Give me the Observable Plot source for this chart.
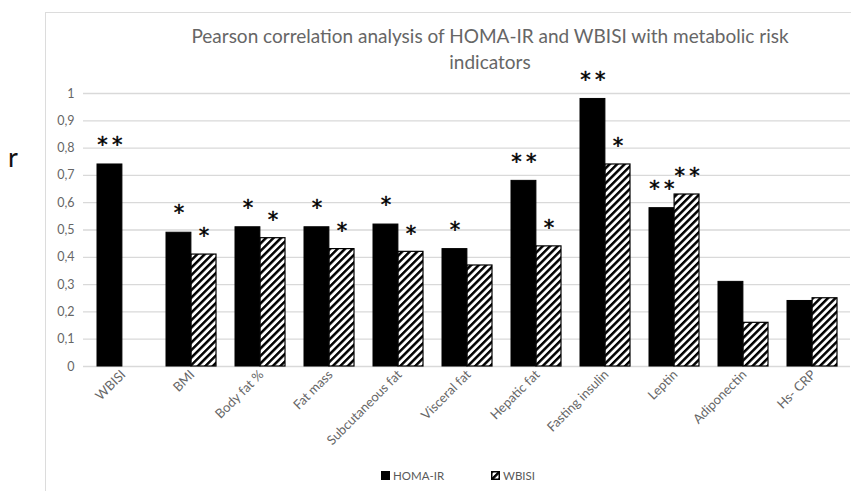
<!DOCTYPE html>
<html>
<head>
<meta charset="utf-8">
<script src="https://cdn.jsdelivr.net/npm/d3@7"></script>
<script src="https://cdn.jsdelivr.net/npm/@observablehq/plot@0.6"></script>
<style>
  html, body { margin: 0; padding: 0; background: #fff; overflow: hidden; }
  #wrap { position: relative; width: 851px; height: 491px; overflow: hidden; font-family: Lato, "Open Sans", sans-serif; }
  #frame { position: absolute; left: 45px; top: 12px; width: 900px; height: 600px; border: 1.5px solid #dcdcdc; box-sizing: border-box; }
  #chart { position: absolute; left: 0; top: 0; }
  #title { position: absolute; left: 90px; width: 800px; top: 23px; text-align: center; font-size: 19px; line-height: 26px; color: #666; }
  #ylab { position: absolute; left: 8px; top: 140px; font-size: 27px; color: #111; }
  .leg { position: absolute; top: 469px; font-size: 11.5px; color: #595959; display: flex; align-items: center; }
</style>
</head>
<body>
<div id="wrap">
  <div id="frame"></div>
  <div id="chart"></div>
  <div id="title">Pearson correlation analysis of HOMA-IR and WBISI with metabolic risk<br>indicators</div>
  <div id="ylab">r</div>
  <div id="legend"></div>
</div>
<script>
const categories = ["WBISI", "BMI", "Body fat %", "Fat mass", "Subcutaneous fat", "Visceral fat", "Hepatic fat", "Fasting insulin", "Leptin", "Adiponectin", "Hs- CRP"];
const seriesNames = ["HOMA-IR", "WBISI"];
const homaIR = [0.74, 0.49, 0.51, 0.51, 0.52, 0.43, 0.68, 0.98, 0.58, 0.31, 0.24];
const wbisi  = [null, 0.41, 0.47, 0.43, 0.42, 0.37, 0.44, 0.74, 0.63, 0.16, 0.25];
const homaStars  = ["**", "*", "*", "*", "*", "*", "**", "**", "**", "", ""];
const wbisiStars = ["", "*", "*", "*", "*", "", "*", "*", "**", "", ""];
const yTicks = [0, 0.1, 0.2, 0.3, 0.4, 0.5, 0.6, 0.7, 0.8, 0.9, 1];

const starText = s => s.split("").join("\u2009");

const homaRows = categories.map((c, i) => ({category: c, value: homaIR[i], stars: starText(homaStars[i])}));
const wbisiRows = categories.map((c, i) => ({category: c, value: wbisi[i], stars: starText(wbisiStars[i])}))
  .filter(d => d.value != null);

const W = 851, H = 491;
const mL = 83, mR = 1, mT = 93, mB = 125;
const padIn = 0.28, padOut = 0.14;
const step = (W - mL - mR) / (categories.length - padIn + 2 * padOut);
const bw = step * (1 - padIn);
const half = bw / 2;

const starStyle = {fontSize: 21, fill: "black", stroke: "black", strokeWidth: 0.5, fontFamily: "DejaVu Sans"};

const chart = Plot.plot({
  width: W,
  height: H,
  marginLeft: mL,
  marginRight: mR,
  marginTop: mT,
  marginBottom: mB,
  style: {fontFamily: "Lato, 'Open Sans', sans-serif", color: "#666", background: "transparent"},
  x: {domain: categories, paddingInner: padIn, paddingOuter: padOut, label: null},
  y: {domain: [0, 1], label: null},
  marks: [
    Plot.gridY(yTicks, {stroke: "#d9d9d9", strokeOpacity: 1, strokeWidth: 1.3}),
    Plot.axisY(yTicks, {tickSize: 0, tickPadding: 9, fontSize: 12.5, tickFormat: d => String(d).replace(".", ","), label: null}),
    Plot.axisX({tickSize: 0, tickPadding: 6, tickRotate: -45, fontSize: 13, dx: 1, label: null}),
    Plot.barY(homaRows, {x: "category", y: "value", fill: "black", stroke: "black", strokeWidth: 1, insetRight: half}),
    Plot.barY(wbisiRows, {x: "category", y: "value", fill: "url(#hatch)", stroke: "black", strokeWidth: 1.2, insetLeft: half}),
    Plot.text(homaRows, {x: "category", y: "value", text: "stars", dx: -half / 2, dy: -19, ...starStyle}),
    Plot.text(wbisiRows, {x: "category", y: "value", text: "stars", dx: half / 2, dy: -18, ...starStyle})
  ]
});

const svg = d3.select(chart);
const defs = svg.insert("defs", ":first-child");
const pat = defs.append("pattern")
  .attr("id", "hatch")
  .attr("patternUnits", "userSpaceOnUse")
  .attr("width", 5.3).attr("height", 5.3)
  .attr("patternTransform", "rotate(45)");
pat.append("rect").attr("width", 5.3).attr("height", 5.3).attr("fill", "white");
pat.append("rect").attr("width", 2.5).attr("height", 5.3).attr("fill", "black");

document.getElementById("chart").appendChild(chart);

// legend
const legend = document.getElementById("legend");
const items = [
  {name: seriesNames[0], left: 381, fill: "black"},
  {name: seriesNames[1], left: 491, fill: "hatch"}
];
items.forEach(it => {
  const d = document.createElement("div");
  d.className = "leg";
  d.style.left = it.left + "px";
  const s = document.createElementNS("http://www.w3.org/2000/svg", "svg");
  s.setAttribute("width", 9); s.setAttribute("height", 9);
  s.style.marginRight = "3px";
  const r = document.createElementNS("http://www.w3.org/2000/svg", "rect");
  r.setAttribute("x", 0.75); r.setAttribute("y", 0.75); r.setAttribute("width", 7.5); r.setAttribute("height", 7.5);
  r.setAttribute("fill", it.fill === "black" ? "black" : "url(#hatch)");
  r.setAttribute("stroke", "black"); r.setAttribute("stroke-width", 1.5);
  s.appendChild(r);
  d.appendChild(s);
  const t = document.createElement("span");
  t.textContent = it.name;
  d.appendChild(t);
  legend.appendChild(d);
});
</script>
</body>
</html>
